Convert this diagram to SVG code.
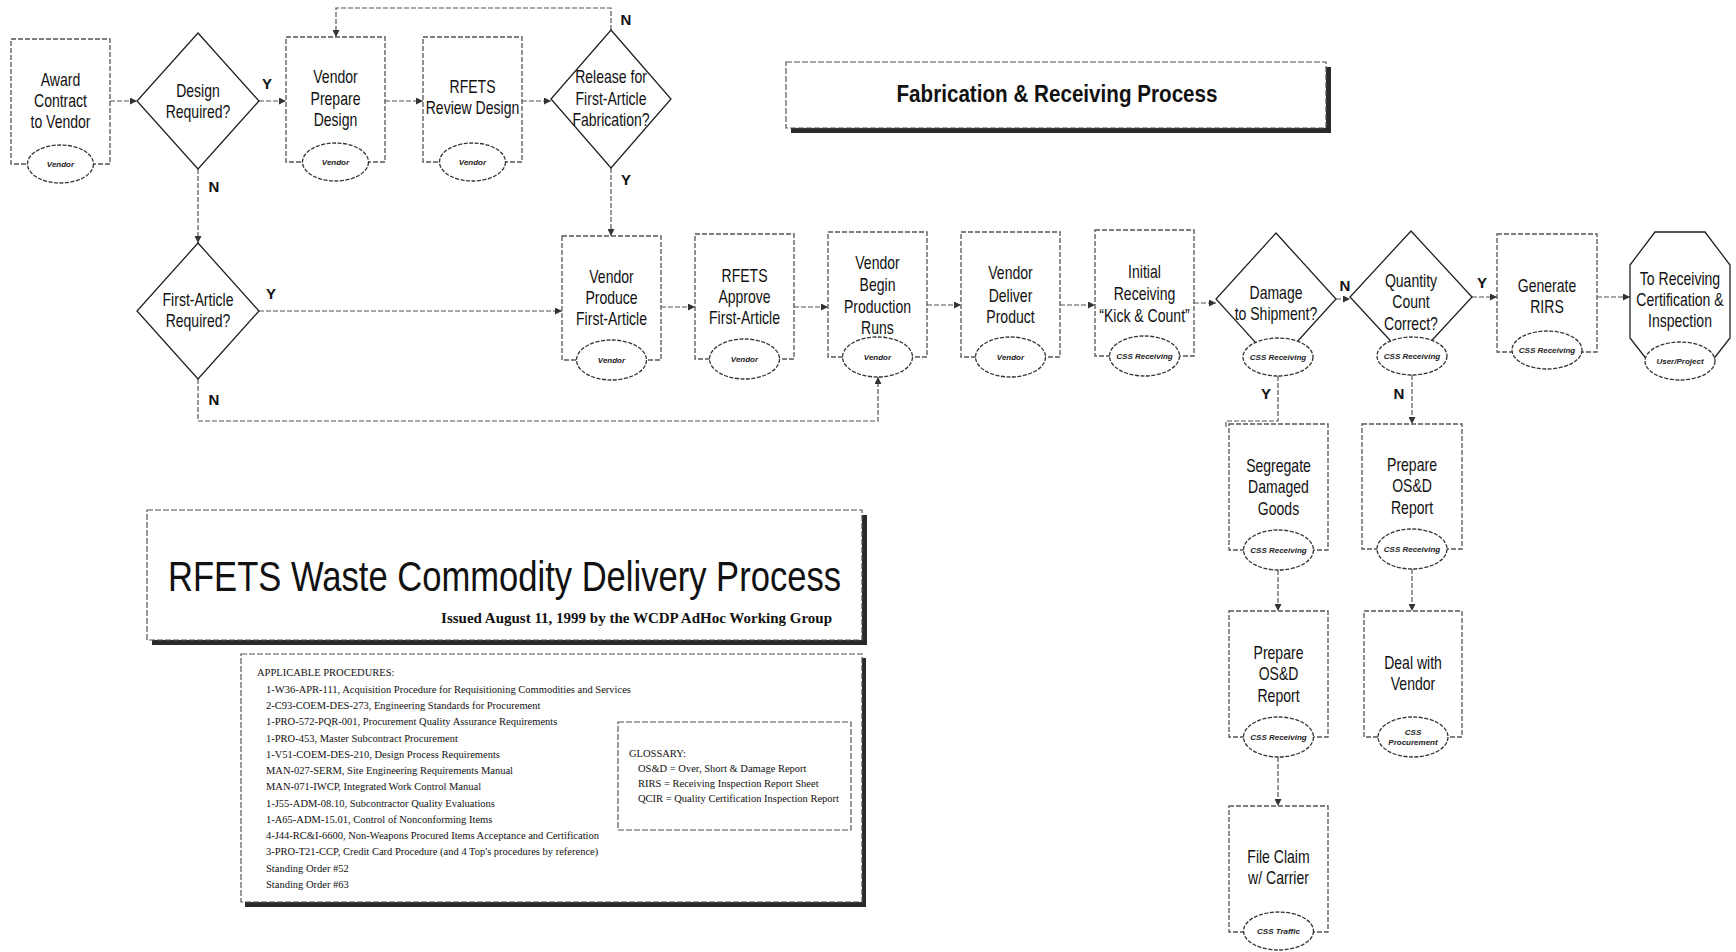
<svg xmlns="http://www.w3.org/2000/svg" width="1736" height="952" viewBox="0 0 1736 952">
<style>
.box{fill:#fff;stroke:#555;stroke-width:1.3;stroke-dasharray:5 2}
.ell{fill:#fff;stroke:#333;stroke-width:1.3;stroke-dasharray:4 1.5}
.dia{fill:#fff;stroke:#222;stroke-width:1.3}
.con{fill:none;stroke:#555;stroke-width:1.2;stroke-dasharray:5 2}
.t{font-family:"Liberation Sans",Arial,sans-serif;font-size:18px;fill:#111;text-anchor:middle}
.e{font-family:"Liberation Sans",Arial,sans-serif;font-size:8px;font-style:italic;font-weight:bold;fill:#222;text-anchor:middle}
.lb{font-family:"Liberation Sans",Arial,sans-serif;font-size:15px;font-weight:bold;fill:#111;text-anchor:middle}
.pr{font-family:"Liberation Serif",serif;font-size:10.5px;fill:#111}
.sh{fill:#2a2a2a}
.frame{fill:#fff;stroke:#555;stroke-width:1.2;stroke-dasharray:6 2}
</style>
<defs>
<marker id="ah" markerWidth="7" markerHeight="7" refX="7" refY="3.5" orient="auto" markerUnits="userSpaceOnUse">
<path d="M0,0 L7,3.5 L0,7 z" fill="#333"/>
</marker>
</defs>
<rect width="1736" height="952" fill="#fff"/>

<g id="connectors">
<path class="con" d="M110,101 H137" marker-end="url(#ah)"/>
<path class="con" d="M259,101 H286" marker-end="url(#ah)"/>
<path class="con" d="M385,101 H423" marker-end="url(#ah)"/>
<path class="con" d="M522,101 H551" marker-end="url(#ah)"/>
<path class="con" d="M611,30 V8 H336 V37" marker-end="url(#ah)"/>
<path class="con" d="M611,168 V236" marker-end="url(#ah)"/>
<path class="con" d="M198,169 V243" marker-end="url(#ah)"/>
<path class="con" d="M259,311 H562" marker-end="url(#ah)"/>
<path class="con" d="M198,379 V421 H878 V377" marker-end="url(#ah)"/>
<path class="con" d="M661,307 H695" marker-end="url(#ah)"/>
<path class="con" d="M794,307 H828" marker-end="url(#ah)"/>
<path class="con" d="M927,305 H961" marker-end="url(#ah)"/>
<path class="con" d="M1060,305 H1095" marker-end="url(#ah)"/>
<path class="con" d="M1194,303 H1216" marker-end="url(#ah)"/>
<path class="con" d="M1336,299 H1350" marker-end="url(#ah)"/>
<path class="con" d="M1472,297 H1497" marker-end="url(#ah)"/>
<path class="con" d="M1597,297 H1630" marker-end="url(#ah)"/>
<path class="con" d="M1278,376 V421 H1226 V428"/>
<path class="con" d="M1412,375 V424" marker-end="url(#ah)"/>
<path class="con" d="M1278,570 V611" marker-end="url(#ah)"/>
<path class="con" d="M1278,757 V806" marker-end="url(#ah)"/>
<path class="con" d="M1412,569 V611" marker-end="url(#ah)"/>
</g>

<g id="labels">
<text class="lb" x="267" y="89">Y</text>
<text class="lb" x="214" y="192">N</text>
<text class="lb" x="626" y="25">N</text>
<text class="lb" x="626" y="185">Y</text>
<text class="lb" x="271" y="299">Y</text>
<text class="lb" x="214" y="405">N</text>
<text class="lb" x="1345" y="291">N</text>
<text class="lb" x="1482" y="288">Y</text>
<text class="lb" x="1266" y="399">Y</text>
<text class="lb" x="1399" y="399">N</text>
</g>

<g id="award">
<rect class="box" x="11" y="39" width="99" height="125"/>
<ellipse class="ell" cx="60.5" cy="164" rx="33" ry="19"/>
<g transform="translate(60.5,0) scale(0.78,1)">
<text class="t" x="0" y="86">Award</text>
<text class="t" x="0" y="107">Contract</text>
<text class="t" x="0" y="128">to Vendor</text>
</g>
<text class="e" x="60.5" y="167">Vendor</text>
</g>

<g id="design">
<polygon class="dia" points="198,33 259,101 198,169 137,101"/>
<g transform="translate(198,0) scale(0.78,1)">
<text class="t" x="0" y="97">Design</text>
<text class="t" x="0" y="118">Required?</text>
</g>
</g>

<g id="prepdesign">
<rect class="box" x="286" y="37" width="99" height="125"/>
<ellipse class="ell" cx="335.5" cy="162" rx="33" ry="19"/>
<g transform="translate(335.5,0) scale(0.78,1)">
<text class="t" x="0" y="83">Vendor</text>
<text class="t" x="0" y="105">Prepare</text>
<text class="t" x="0" y="126">Design</text>
</g>
<text class="e" x="335.5" y="165">Vendor</text>
</g>

<g id="review">
<rect class="box" x="423" y="37" width="99" height="125"/>
<ellipse class="ell" cx="472.5" cy="162" rx="33" ry="19"/>
<g transform="translate(472.5,0) scale(0.78,1)">
<text class="t" x="0" y="93">RFETS</text>
<text class="t" x="0" y="114">Review Design</text>
</g>
<text class="e" x="472.5" y="165">Vendor</text>
</g>

<g id="release">
<polygon class="dia" points="611,30 671,99 611,168 551,99"/>
<g transform="translate(611,0) scale(0.78,1)">
<text class="t" x="0" y="83">Release for</text>
<text class="t" x="0" y="105">First-Article</text>
<text class="t" x="0" y="126">Fabrication?</text>
</g>
</g>

<g id="firstart">
<polygon class="dia" points="198,243 259,311 198,379 137,311"/>
<g transform="translate(198,0) scale(0.78,1)">
<text class="t" x="0" y="306">First-Article</text>
<text class="t" x="0" y="327">Required?</text>
</g>
</g>

<g id="produce">
<rect class="box" x="562" y="236" width="99" height="124"/>
<ellipse class="ell" cx="611.5" cy="360" rx="35" ry="20"/>
<g transform="translate(611.5,0) scale(0.78,1)">
<text class="t" x="0" y="283">Vendor</text>
<text class="t" x="0" y="304">Produce</text>
<text class="t" x="0" y="325">First-Article</text>
</g>
<text class="e" x="611.5" y="363">Vendor</text>
</g>

<g id="approve">
<rect class="box" x="695" y="234" width="99" height="125"/>
<ellipse class="ell" cx="744.5" cy="359" rx="35" ry="20"/>
<g transform="translate(744.5,0) scale(0.78,1)">
<text class="t" x="0" y="282">RFETS</text>
<text class="t" x="0" y="303">Approve</text>
<text class="t" x="0" y="324">First-Article</text>
</g>
<text class="e" x="744.5" y="362">Vendor</text>
</g>

<g id="begin">
<rect class="box" x="828" y="232" width="99" height="125"/>
<ellipse class="ell" cx="877.5" cy="357" rx="35" ry="20"/>
<g transform="translate(877.5,0) scale(0.78,1)">
<text class="t" x="0" y="269">Vendor</text>
<text class="t" x="0" y="291">Begin</text>
<text class="t" x="0" y="313">Production</text>
<text class="t" x="0" y="334">Runs</text>
</g>
<text class="e" x="877.5" y="360">Vendor</text>
</g>

<g id="deliver">
<rect class="box" x="961" y="232" width="99" height="125"/>
<ellipse class="ell" cx="1010.5" cy="357" rx="35" ry="20"/>
<g transform="translate(1010.5,0) scale(0.78,1)">
<text class="t" x="0" y="279">Vendor</text>
<text class="t" x="0" y="302">Deliver</text>
<text class="t" x="0" y="323">Product</text>
</g>
<text class="e" x="1010.5" y="360">Vendor</text>
</g>

<g id="initial">
<rect class="box" x="1095" y="230" width="99" height="126"/>
<ellipse class="ell" cx="1144.5" cy="356" rx="35" ry="20"/>
<g transform="translate(1144.5,0) scale(0.78,1)">
<text class="t" x="0" y="278">Initial</text>
<text class="t" x="0" y="300">Receiving</text>
<text class="t" x="0" y="322">“Kick &amp; Count”</text>
</g>
<text class="e" x="1144.5" y="359">CSS Receiving</text>
</g>

<g id="damage">
<polygon class="dia" points="1276,233 1336,299 1276,365 1216,299"/>
<ellipse class="ell" cx="1278" cy="357" rx="35" ry="19"/>
<g transform="translate(1276,0) scale(0.78,1)">
<text class="t" x="0" y="299">Damage</text>
<text class="t" x="0" y="320">to Shipment?</text>
</g>
<text class="e" x="1278" y="360">CSS Receiving</text>
</g>

<g id="quantity">
<polygon class="dia" points="1411,231 1472,297 1411,363 1350,297"/>
<ellipse class="ell" cx="1412" cy="356" rx="35" ry="19"/>
<g transform="translate(1411,0) scale(0.78,1)">
<text class="t" x="0" y="287">Quantity</text>
<text class="t" x="0" y="308">Count</text>
<text class="t" x="0" y="330">Correct?</text>
</g>
<text class="e" x="1412" y="359">CSS Receiving</text>
</g>

<g id="generate">
<rect class="box" x="1497" y="234" width="100" height="118"/>
<ellipse class="ell" cx="1547" cy="350" rx="35" ry="19"/>
<g transform="translate(1547,0) scale(0.78,1)">
<text class="t" x="0" y="292">Generate</text>
<text class="t" x="0" y="313">RIRS</text>
</g>
<text class="e" x="1547" y="353">CSS Receiving</text>
</g>

<g id="toreceiving">
<polygon class="dia" points="1655,232 1705,232 1730,265 1730,338 1705,370 1655,370 1630,338 1630,265"/>
<ellipse class="ell" cx="1680" cy="361" rx="35" ry="19"/>
<g transform="translate(1680,0) scale(0.78,1)">
<text class="t" x="0" y="285">To Receiving</text>
<text class="t" x="0" y="306">Certification &amp;</text>
<text class="t" x="0" y="327">Inspection</text>
</g>
<text class="e" x="1680" y="364">User/Project</text>
</g>

<g id="segregate">
<rect class="box" x="1229" y="424" width="99" height="126"/>
<ellipse class="ell" cx="1278.5" cy="550" rx="35" ry="20"/>
<g transform="translate(1278.5,0) scale(0.78,1)">
<text class="t" x="0" y="472">Segregate</text>
<text class="t" x="0" y="493">Damaged</text>
<text class="t" x="0" y="515">Goods</text>
</g>
<text class="e" x="1278.5" y="553">CSS Receiving</text>
</g>

<g id="osd1">
<rect class="box" x="1229" y="611" width="99" height="126"/>
<ellipse class="ell" cx="1278.5" cy="737" rx="35" ry="20"/>
<g transform="translate(1278.5,0) scale(0.78,1)">
<text class="t" x="0" y="659">Prepare</text>
<text class="t" x="0" y="680">OS&amp;D</text>
<text class="t" x="0" y="702">Report</text>
</g>
<text class="e" x="1278.5" y="740">CSS Receiving</text>
</g>

<g id="fileclaim">
<rect class="box" x="1229" y="806" width="99" height="126"/>
<ellipse class="ell" cx="1278.5" cy="931" rx="35" ry="19"/>
<g transform="translate(1278.5,0) scale(0.78,1)">
<text class="t" x="0" y="863">File Claim</text>
<text class="t" x="0" y="884">w/ Carrier</text>
</g>
<text class="e" x="1278.5" y="934">CSS Traffic</text>
</g>

<g id="osd2">
<rect class="box" x="1362" y="424" width="100" height="125"/>
<ellipse class="ell" cx="1412" cy="549" rx="35" ry="20"/>
<g transform="translate(1412,0) scale(0.78,1)">
<text class="t" x="0" y="471">Prepare</text>
<text class="t" x="0" y="492">OS&amp;D</text>
<text class="t" x="0" y="514">Report</text>
</g>
<text class="e" x="1412" y="552">CSS Receiving</text>
</g>

<g id="deal">
<rect class="box" x="1364" y="611" width="98" height="126"/>
<ellipse class="ell" cx="1413" cy="737" rx="35" ry="20"/>
<g transform="translate(1413,0) scale(0.78,1)">
<text class="t" x="0" y="669">Deal with</text>
<text class="t" x="0" y="690">Vendor</text>
</g>
<text class="e" x="1413" y="735">CSS</text>
<text class="e" x="1413" y="745">Procurement</text>
</g>

<g id="fabtitle">
<rect class="sh" x="791" y="67" width="540" height="66"/>
<rect class="frame" x="786" y="62" width="540" height="66"/>
<g transform="translate(1057,0) scale(0.86,1)">
<text x="0" y="102" font-family="Liberation Sans,Arial,sans-serif" font-size="24" font-weight="bold" text-anchor="middle" fill="#111">Fabrication &amp; Receiving Process</text>
</g>
</g>

<g id="maintitle">
<rect class="sh" x="152" y="515" width="715" height="130"/>
<rect class="frame" x="147" y="510" width="715" height="130"/>
<text x="168" y="591" font-family="Liberation Sans,Arial,sans-serif" font-size="42" fill="#111" textLength="673" lengthAdjust="spacingAndGlyphs">RFETS Waste Commodity Delivery Process</text>
<text x="832" y="623" font-family="Liberation Serif,serif" font-size="15" font-weight="bold" text-anchor="end" fill="#111">Issued August 11, 1999 by the WCDP AdHoc Working Group</text>
</g>

<g id="procedures">
<rect class="sh" x="245" y="658" width="621" height="249"/>
<rect class="frame" x="241" y="654" width="621" height="248"/>
<text class="pr" x="257" y="676">APPLICABLE PROCEDURES:</text>
<text class="pr" x="266" y="693">1-W36-APR-111, Acquisition Procedure for Requisitioning Commodities and Services</text>
<text class="pr" x="266" y="709">2-C93-COEM-DES-273, Engineering Standards for Procurement</text>
<text class="pr" x="266" y="725">1-PRO-572-PQR-001, Procurement Quality Assurance Requirements</text>
<text class="pr" x="266" y="742">1-PRO-453, Master Subcontract Procurement</text>
<text class="pr" x="266" y="758">1-V51-COEM-DES-210, Design Process Requirements</text>
<text class="pr" x="266" y="774">MAN-027-SERM, Site Engineering Requirements Manual</text>
<text class="pr" x="266" y="790">MAN-071-IWCP, Integrated Work Control Manual</text>
<text class="pr" x="266" y="807">1-J55-ADM-08.10, Subcontractor Quality Evaluations</text>
<text class="pr" x="266" y="823">1-A65-ADM-15.01, Control of Nonconforming Items</text>
<text class="pr" x="266" y="839">4-J44-RC&amp;I-6600, Non-Weapons Procured Items Acceptance and Certification</text>
<text class="pr" x="266" y="855">3-PRO-T21-CCP, Credit Card Procedure (and 4 Top's procedures by reference)</text>
<text class="pr" x="266" y="872">Standing Order #52</text>
<text class="pr" x="266" y="888">Standing Order #63</text>
</g>

<g id="glossary">
<rect class="frame" x="618" y="722" width="233" height="108"/>
<text class="pr" x="629" y="757">GLOSSARY:</text>
<text class="pr" x="638" y="772">OS&amp;D = Over, Short &amp; Damage Report</text>
<text class="pr" x="638" y="787">RIRS = Receiving Inspection Report Sheet</text>
<text class="pr" x="638" y="802">QCIR = Quality Certification Inspection Report</text>
</g>
</svg>
